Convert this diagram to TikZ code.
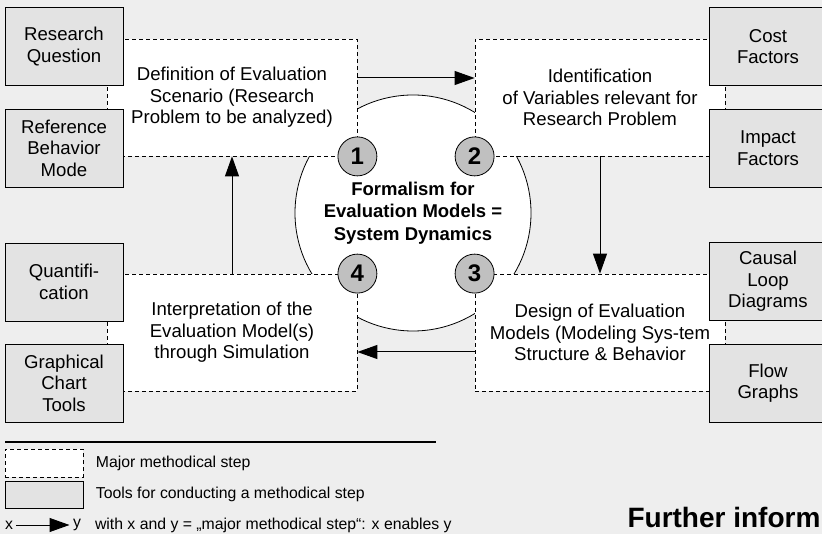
\documentclass[tikz,border=0pt]{standalone}
\usepackage{fontspec}
\setmainfont{Liberation Sans}
\usepackage{tikz}
\usetikzlibrary{positioning,arrows.meta}
\definecolor{bggray}{HTML}{EEEEEE}
\definecolor{toolgray}{HTML}{E3E3E3}
\definecolor{numgray}{HTML}{C0C0C0}

\begin{document}
\begin{tikzpicture}[x=1pt,y=-1pt]
\tikzstyle{stepbox}=[rectangle, draw=black, fill=white, line width=0.8pt, dash pattern=on 4pt off 3pt, minimum width=250pt, minimum height=117pt, align=center, font=\fontsize{18.6}{21.5}\selectfont]
\tikzstyle{toolbox}=[rectangle, draw=black, fill=toolgray, line width=0.8pt, minimum width=118pt, minimum height=78pt, align=center, font=\fontsize{18.6}{21.5}\selectfont]
\tikzstyle{num}=[circle, draw=black, fill=numgray, line width=0.8pt, minimum size=39pt, inner sep=0pt, font=\bfseries\fontsize{24}{24}\selectfont]
\tikzstyle{core}=[circle, draw=black, fill=white, line width=0.8pt, minimum size=236pt, align=center, font=\bfseries\fontsize{18.5}{22.5}\selectfont]
\tikzstyle{legend}=[font=\fontsize{15.8}{18}\selectfont]
\tikzstyle{connect}=[-{Triangle[length=20pt,width=14pt]}, line width=1pt]
\useasboundingbox (0,0) rectangle (822,534);
\clip (0,0) rectangle (822,534);
\fill[bggray] (0,0) rectangle (822,534);

	% formalism in the middle
	\node[core] (sd) at (413,213) {Formalism for\\Evaluation Models =\\System Dynamics};

	% major methodical steps
	\node[stepbox] (step1) at (232,97.5) {Definition of Evaluation\\Scenario (Research\\Problem to be analyzed)};
	\node[stepbox] (step2) at (600,97.5) {Identification\\of Variables relevant for\\Research Problem};
	\node[stepbox] (step3) at (600,332.5) {Design of Evaluation\\Models (Modeling Sys-tem\\Structure \& Behavior};
	\node[stepbox] (step4) at (232,332.5) {Interpretation of the\\Evaluation Model(s)\\through Simulation};

	% tools
	\node[toolbox] (question) at (64,46.5) {Research\\Question};
	\node[toolbox] (refmode) at (64,148) {Reference\\Behavior\\Mode};
	\node[toolbox] (quant) at (64,282) {Quantifi-\\cation};
	\node[toolbox] (chart) at (64,383) {Graphical\\Chart\\Tools};
	\node[toolbox] (cost) at (768,46.5) {Cost\\Factors};
	\node[toolbox] (impact) at (768,148) {Impact\\Factors};
	\node[toolbox] (causal) at (768,281.5) {Causal\\Loop\\Diagrams};
	\node[toolbox] (flow) at (768,383) {Flow\\Graphs};

	\node[num] (n_1) at (step1.south east) {1};
	\node[num] (n_2) at (step2.south west) {2};
	\node[num] (n_3) at (step3.north west) {3};
	\node[num] (n_4) at (step4.north east) {4};

	\path
		([yshift=19.5pt]step1.east) edge [connect] ([yshift=19.5pt]step2.west)
		(step2.south) edge [connect] (step3.north)
		([yshift=-19.5pt]step3.west) edge [connect] ([yshift=-19.5pt]step4.east)
		(step4.north) edge [connect] (step1.south);

	% legend
	\draw[line width=1.6pt] (5,442) -- (436,442);
	\node[stepbox, minimum width=78pt, minimum height=28pt] (lg_step) at (44,463) {};
	\node[legend, right=9pt of lg_step] (lg_steptext) {Major methodical step};
	\node[toolbox, minimum width=78pt, minimum height=27pt] (lg_tool) at (44,494.5) {};
	\node[legend, right=9pt of lg_tool] (lg_tooltext) {Tools for conducting a methodical step};
	\node[legend] (lg_x) at (9,525) {x};
	\node[legend] (lg_y) at (77,525) {y};
	\path (lg_x) edge [connect] (lg_y);
	\node[legend, right=7pt of lg_y] (lg_arrowtext) {with x and y = „major methodical step“: x enables y};

	\node[font=\bfseries\fontsize{28}{28}\selectfont, anchor=base west] (further) at (624,527) {Further inform};
\end{tikzpicture}
\end{document}
